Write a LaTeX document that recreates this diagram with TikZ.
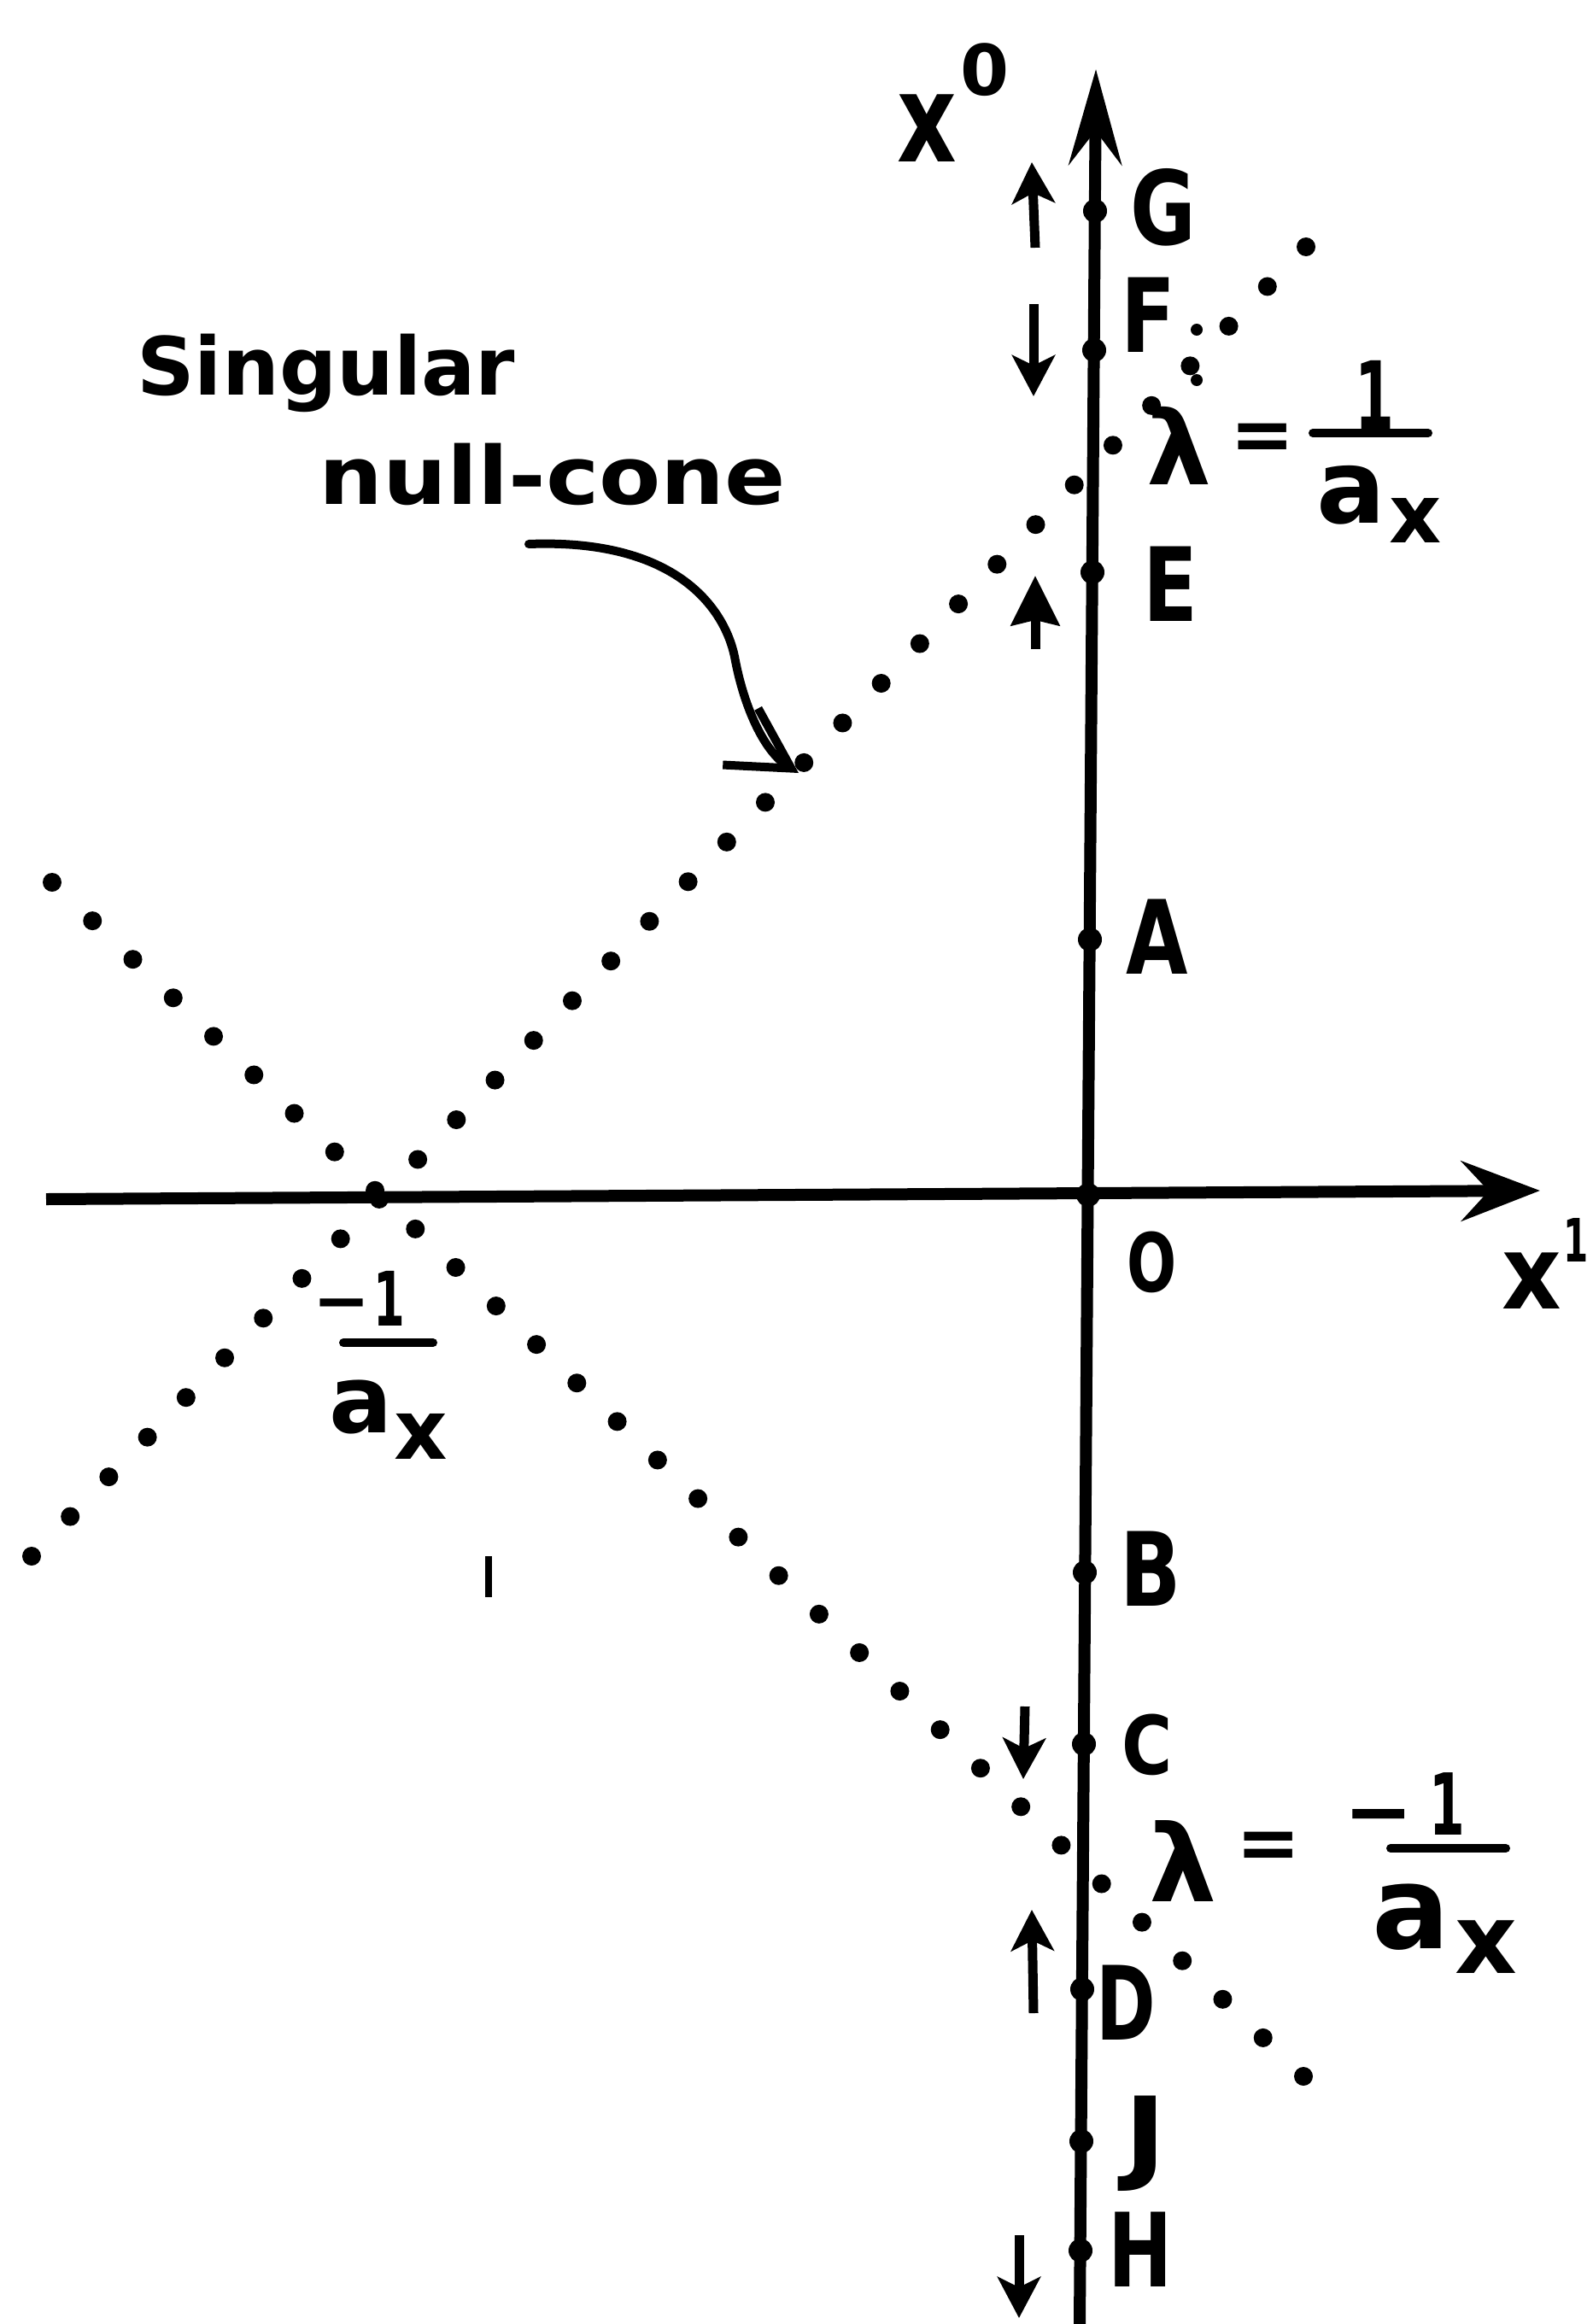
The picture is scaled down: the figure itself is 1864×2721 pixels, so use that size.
\documentclass[tikz,border=0pt]{standalone}
\usepackage{fontspec}
\setmainfont{DejaVu Sans}
\usetikzlibrary{arrows.meta,calc}
\newcommand{\hnarrow}[2][0.78]{\scalebox{#1}[1]{#2}}
\begin{document}
\begin{tikzpicture}[x=1pt,y=-1pt,
  axisline/.style={line width=14pt},
  axpt/.style={circle,fill,inner sep=0pt,minimum size=28pt},
  lab/.style={inner sep=0pt,font=\fontsize{120}{120}\selectfont\bfseries},
  labs/.style={inner sep=0pt,font=\fontsize{#1}{#1}\selectfont\bfseries},
  smallarr/.style={line width=11pt,-{Stealth[length=48pt,width=50pt,inset=12pt]}},
  bigarr/.style={line width=11pt,-{Stealth[length=58pt,width=56pt,inset=6pt]}},
  fracbar/.style={line width=10pt,line cap=round}
]
\useasboundingbox (0,0) rectangle (1864,2721);
\fill[white] (0,0) rectangle (1864,2721);

% singular null-cone (dotted lines)
\coordinate (u1) at (37,1822); \coordinate (u2) at (1529,289);
\coordinate (w1) at (61,1033); \coordinate (w2) at (1526,2431);
\foreach \i in {0,...,33} \fill ($(u1)!\i/33!(u2)$) circle (11pt);
\foreach \i in {0,...,31} \fill ($(w1)!\i/31!(w2)$) circle (11pt);
\fill (1401,386) circle (7pt);
\fill (1401,445) circle (7pt);

% axes
\coordinate (vb) at (1264,2721); \coordinate (vt) at (1283,81);
\coordinate (hl) at (54,1404); \coordinate (hr) at (1803,1394);
\draw[axisline,-{Stealth[length=112pt,width=62pt,inset=40pt]}] (vb) -- (vt);
\draw[axisline,-{Stealth[length=92pt,width=70pt,inset=32pt]}] (hl) -- (hr);

% points on the x0 axis
\node[axpt] (G) at (1282,247) {};
\node[axpt] (F) at (1281,410) {};
\node[axpt] (E) at (1279,670) {};
\node[axpt] (A) at (1276,1100) {};
\node[axpt] (O) at (1274,1399) {};
\node[axpt] (B) at (1270,1841) {};
\node[axpt] (C) at (1269,2042) {};
\node[axpt] (D) at (1267,2329) {};
\node[axpt] (J) at (1266,2507) {};
\node[axpt] (H) at (1265,2635) {};

% labels
\node[lab] (Gl) at (1362,243) {\hnarrow{G}};
\node[lab] (Fl) at (1344,369) {\hnarrow{F}};
\node[lab] (El) at (1370,684) {\hnarrow{E}};
\node[lab] (Al) at (1355,1097) {\hnarrow{A}};
\node[labs=95] (Ol) at (1349,1478) {\hnarrow[0.72]{O}};
\node[lab] (Bl) at (1347,1837) {\hnarrow{B}};
\node[labs=95] (Cl) at (1343,2043) {\hnarrow[0.85]{C}};
\node[lab] (Dl) at (1318,2345) {\hnarrow[0.7]{D}};
\node[lab] (Jl) at (1341,2510) {\hnarrow[1.1]{J}};
\node[lab] (Hl) at (1335,2634) {\hnarrow[0.75]{H}};

% axis names
\node[labs=144] (xa) at (1085,150) {\hnarrow[0.75]{x}};
\node[labs=82] (xasup) at (1153,82) {0};
\node[labs=120] (xb) at (1793,1500) {\hnarrow[0.9]{x}};
\node[labs=70] (xbsup) at (1845,1452) {\hnarrow[0.6]{1}};

% small arrows
\coordinate (ga) at (1212,290); \coordinate (gb) at (1208,190);
\draw[smallarr] (ga) -- (gb);
\coordinate (fa) at (1210,356); \coordinate (fb) at (1210,464);
\draw[smallarr] (fa) -- (fb);
\coordinate (ea) at (1212,760); \coordinate (eb) at (1212,674);
\draw[bigarr] (ea) -- (eb);
\coordinate (ca) at (1200,1998); \coordinate (cb) at (1198,2083);
\draw[smallarr] (ca) -- (cb);
\coordinate (da) at (1210,2357); \coordinate (db) at (1208,2236);
\draw[smallarr] (da) -- (db);
\coordinate (ha) at (1193,2617); \coordinate (hb) at (1193,2714);
\draw[smallarr] (ha) -- (hb);

% lambda = 1/a_x
\node[labs=120] (lam1) at (1380,522) {λ};
\node[labs=90] (eq1) at (1478,518) {=};
\node[labs=110] (one1) at (1609,462) {\hnarrow[0.6]{1}};
\draw[fracbar] (1537,507) -- (1672,507);
\node[labs=120] (a1) at (1582,580) {a};
\node[labs=95] (x1) at (1657,610) {x};

% lambda = -1/a_x
\node[labs=125] (lam2) at (1385,2179) {λ};
\node[labs=90] (eq2) at (1485,2167) {=};
\node[labs=97] (m2) at (1614,2136) {−};
\node[labs=100] (one2) at (1694,2112) {\hnarrow[0.6]{1}};
\draw[fracbar] (1628,2164) -- (1763,2164);
\node[labs=135] (a2) at (1652,2245) {a};
\node[labs=113] (x2) at (1740,2280) {x};

% -1/a_x at crossing
\node[labs=80] (m3) at (400,1536) {−};
\node[labs=88] (one3) at (456,1520) {\hnarrow[0.6]{1}};
\draw[fracbar] (402,1572) -- (507,1572);
\node[labs=110] (a3) at (423,1647) {a};
\node[labs=97] (x3) at (493,1682) {x};

% Singular null-cone
\node[labs=94,anchor=base west] (sing) at (160,462) {Singular};
\node[labs=94,anchor=base west] (nullc) at (373,590) {\hnarrow[1.12]{null-cone}};
\coordinate (k0) at (619,637);
\coordinate (k1) at (861,774);
\coordinate (k2) at (935,905);
\draw[line width=10pt,line cap=round,-{Straight Barb[length=70pt,width=78pt]}]
  (k0) .. controls (800,630) and (852,720) .. (k1) .. controls (872,830) and (895,880) .. (k2);

% stray mark
\coordinate (s1) at (572,1822); \coordinate (s2) at (572,1870);
\draw[line width=8pt] (s1) -- (s2);
\end{tikzpicture}
\end{document}
